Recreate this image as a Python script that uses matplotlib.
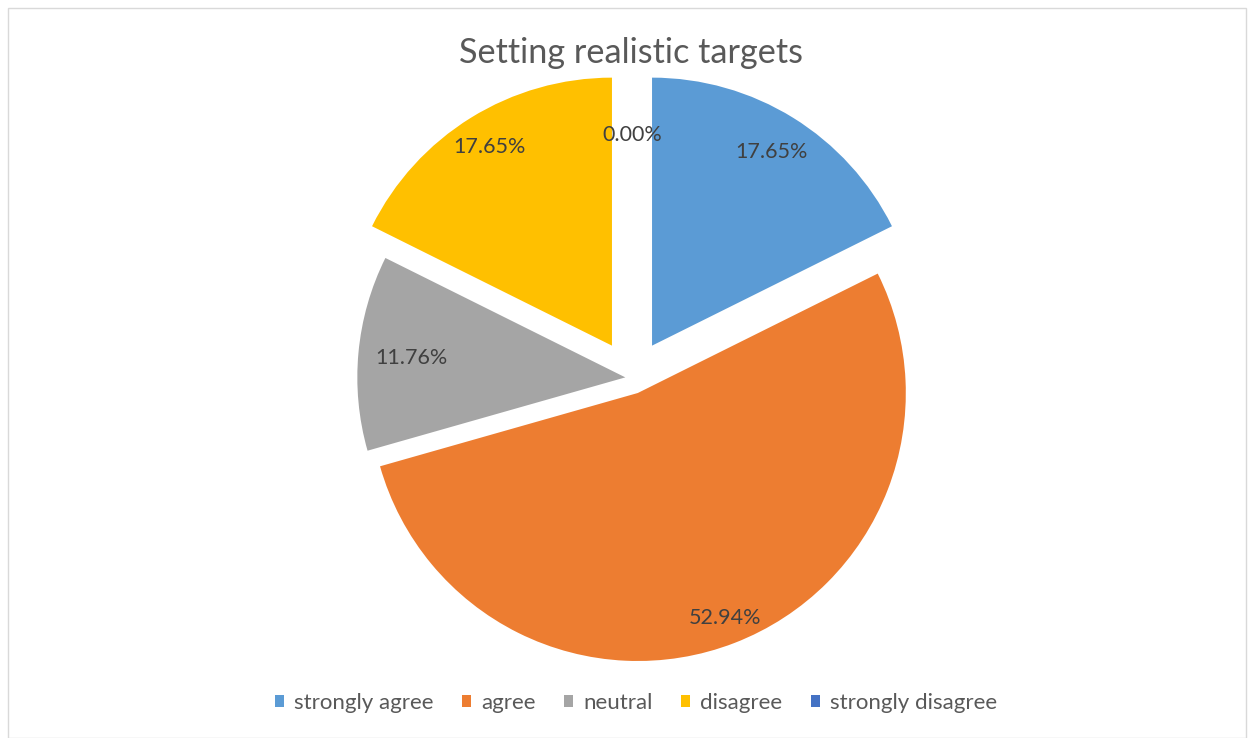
import matplotlib
matplotlib.use("Agg")
import matplotlib.pyplot as plt
from matplotlib.patches import Rectangle
import numpy as np

title = "Setting realistic targets"
categories = ["strongly agree", "agree", "neutral", "disagree", "strongly disagree"]
values = [17.65, 52.94, 11.76, 17.65, 0.00]
colors = ["#5B9BD5", "#ED7D31", "#A5A5A5", "#FFC000", "#4472C4"]
explode_frac = [0.142, 0.06, 0.025, 0.142, 0.0]
label_dist = [0.85, 0.9, 0.8, 0.87, 0.906]

W, H = 1253, 738
plt.rcParams['font.family'] = ['Lato', 'DejaVu Sans']
fig = plt.figure(figsize=(W / 100, H / 100), dpi=100)
ax = fig.add_axes([0, 0, 1, 1])

cx, cy, R = 632, H - 378, 268
explode = [e * R for e in explode_frac]
wedges, _ = ax.pie(values, colors=colors, explode=explode, startangle=90,
                   counterclock=False, center=(cx, cy), radius=R,
                   wedgeprops=dict(linewidth=0), frame=True)
ax.set_xlim(0, W)
ax.set_ylim(0, H)
ax.set_aspect('equal')
ax.axis('off')

for w, v, d in zip(wedges, values, label_dist):
    th = np.deg2rad((w.theta1 + w.theta2) / 2)
    x0, y0 = w.center
    ax.text(x0 + d * R * np.cos(th), y0 + d * R * np.sin(th), f"{v:.2f}%",
            ha='center', va='center', fontsize=15.5, color='#404040')

fig.text(631 / W, 1 - 53 / H, title, ha='center', va='center', fontsize=24.7, color='#595959')

fig.patches.append(Rectangle((8 / W, 0), (1246 - 8) / W, (H - 8) / H, transform=fig.transFigure,
                             fill=False, edgecolor='#D9D9D9', linewidth=1))

leg = fig.legend(wedges, categories, loc='center', bbox_to_anchor=(636 / W, 1 - 703 / H),
                 ncol=5, frameon=False, fontsize=16, handlelength=0.4, handleheight=0.4,
                 handletextpad=0.45, columnspacing=1.3, labelcolor='#595959')

fig.savefig("out.png", dpi=100)
